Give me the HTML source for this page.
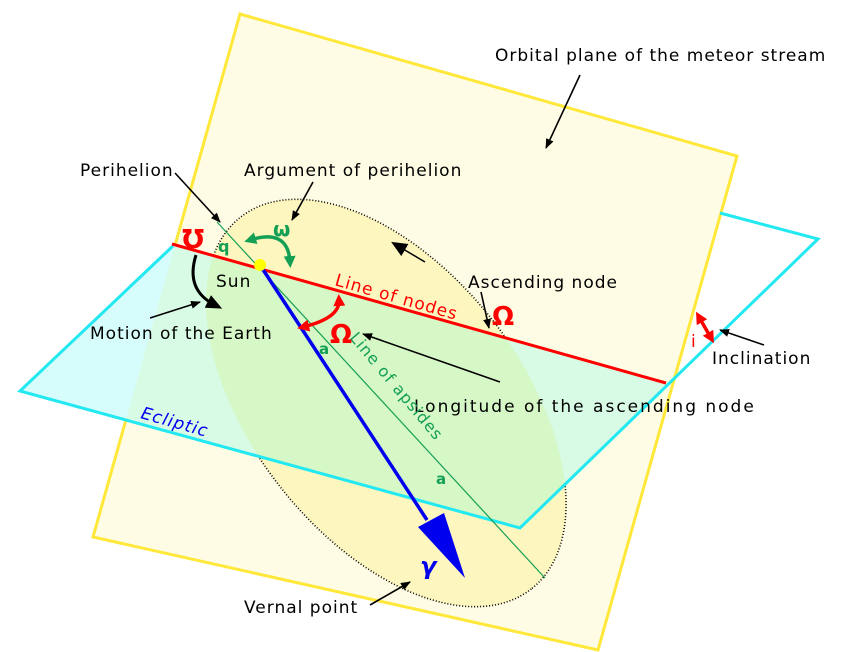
<!DOCTYPE html>
<html><head><meta charset="utf-8"><style>
html,body{margin:0;padding:0;background:#fff;width:851px;height:652px;overflow:hidden;}
svg{display:block;}
text{font-family:"DejaVu Sans","Liberation Sans",sans-serif;}
</style></head><body>
<svg width="851" height="652" viewBox="0 0 851 652" xmlns="http://www.w3.org/2000/svg">
<defs>
<clipPath id="below"><polygon points="0,240 172,244 666,383 851,435 851,652 0,652"/></clipPath>
<clipPath id="yel"><polygon points="240,14 737,156 598,650 93,537"/></clipPath>
<clipPath id="cy"><polygon points="20,391 520,528 818,239 720,213 172,244"/></clipPath>
<marker id="ab" markerWidth="10" markerHeight="8" refX="9" refY="4" orient="auto" markerUnits="userSpaceOnUse"><path d="M0,0 L10,4 L0,8 Z" fill="#000"/></marker>
<marker id="abBig" markerWidth="16" markerHeight="14" refX="8" refY="7" orient="auto" markerUnits="userSpaceOnUse"><path d="M0,0 L16,7 L0,14 Z" fill="#000"/></marker>
<marker id="ag" markerWidth="12" markerHeight="12" refX="6" refY="6" orient="auto-start-reverse" markerUnits="userSpaceOnUse"><path d="M0,0 L12,6 L0,12 Z" fill="#13a055"/></marker>
<marker id="ar" markerWidth="12" markerHeight="12" refX="6" refY="6" orient="auto-start-reverse" markerUnits="userSpaceOnUse"><path d="M0,0 L12,6 L0,12 Z" fill="#f00"/></marker>
</defs>
<polygon points="240,14 737,156 598,650 93,537" fill="#fefce4" stroke="#ffe83a" stroke-width="3"/>
<ellipse cx="386" cy="403" rx="236" ry="135" transform="rotate(52 386 403)" fill="#fdf6bf" stroke="#000" stroke-width="1.6" stroke-dasharray="1 2"/>
<g clip-path="url(#below)">
<polygon points="20,391 520,528 818,239 720,213 172,244" fill="#d6fdfb"/>
<g clip-path="url(#yel)">
<polygon points="20,391 520,528 818,239 720,213 172,244" fill="#d8fbe6"/>
<g clip-path="url(#cy)">
<ellipse cx="386" cy="403" rx="236" ry="135" transform="rotate(52 386 403)" fill="#d6f7c6"/>
</g>
</g>
</g>
<polyline points="720,213 818,239 520,528 20,391 173,246" fill="none" stroke="#22e8f2" stroke-width="3"/>
<line x1="172" y1="244" x2="666" y2="383" stroke="#f00" stroke-width="3"/>
<line x1="217" y1="222" x2="545" y2="578" stroke="#13a055" stroke-width="1.2"/>
<line x1="260" y1="265" x2="427" y2="520" stroke="#0000ee" stroke-width="3.5"/>
<polygon points="418,527 444,513 465,578" fill="#0000ee"/>
<circle cx="260" cy="265" r="6" fill="#ffff00"/>
<path d="M250,240 Q288,228 290,262" fill="none" stroke="#13a055" stroke-width="3.5" marker-start="url(#ag)" marker-end="url(#ag)"/>
<path d="M303,327 Q340,318 339,300" fill="none" stroke="#f00" stroke-width="3.5" marker-start="url(#ar)" marker-end="url(#ar)"/>
<line x1="699" y1="317" x2="711" y2="338" stroke="#f00" stroke-width="3.5" marker-start="url(#ar)" marker-end="url(#ar)"/>
<path d="M196,255 Q185,290 215,305" fill="none" stroke="#000" stroke-width="3" marker-end="url(#abBig)"/>
<line x1="425" y1="262" x2="398" y2="246" stroke="#000" stroke-width="1.5" marker-end="url(#abBig)"/>
<g stroke="#000" stroke-width="1.6" fill="none">
<line x1="175" y1="173" x2="220" y2="222" marker-end="url(#ab)"/>
<line x1="313" y1="182" x2="292" y2="220" marker-end="url(#ab)"/>
<line x1="580" y1="75" x2="546" y2="148" marker-end="url(#ab)"/>
<line x1="481" y1="292" x2="489" y2="328" marker-end="url(#ab)"/>
<line x1="150" y1="318" x2="200" y2="302" marker-end="url(#ab)"/>
<line x1="500" y1="382" x2="363" y2="334" marker-end="url(#ab)"/>
<line x1="764" y1="345" x2="720" y2="330" marker-end="url(#ab)"/>
<line x1="370" y1="605" x2="410" y2="582" marker-end="url(#ab)"/>
</g>
<g font-size="17" fill="#000" letter-spacing="1">
<text x="495" y="61">Orbital plane of the meteor stream</text>
<text x="80" y="176">Perihelion</text>
<text x="244" y="176">Argument of perihelion</text>
<text x="216" y="287">Sun</text>
<text x="468" y="288">Ascending node</text>
<text x="90" y="339">Motion of the Earth</text>
<text x="712" y="364">Inclination</text>
<text x="414" y="412" letter-spacing="2">Longitude of the ascending node</text>
<text x="244" y="613">Vernal point</text>
</g>
<text x="334" y="285" font-size="17" fill="#f00" letter-spacing="1" transform="rotate(16 334 285)">Line of nodes</text>
<text x="349" y="338" font-size="16" fill="#13a055" letter-spacing="1" transform="rotate(50 349 338)">Line of apsides</text>
<text x="140" y="418" font-size="17" fill="#0000ee" font-style="italic" letter-spacing="1" transform="rotate(16 140 418)">Ecliptic</text>
<text x="182" y="248" font-size="26" font-weight="bold" fill="#f00" font-family="Liberation Serif,serif">℧</text>
<text x="330" y="343" font-size="26" font-weight="bold" fill="#f00" font-family="Liberation Serif,serif">Ω</text>
<text x="492" y="325" font-size="26" font-weight="bold" fill="#f00" font-family="Liberation Serif,serif">Ω</text>
<text x="691" y="347" font-size="17" fill="#f00">i</text>
<text x="273" y="236" font-size="20" font-weight="bold" fill="#13a055">ω</text>
<text x="218" y="252" font-size="16" font-weight="bold" fill="#13a055">q</text>
<text x="319" y="354" font-size="15" font-weight="bold" fill="#13a055">a</text>
<text x="436" y="484" font-size="15" font-weight="bold" fill="#13a055">a</text>
<text x="420" y="574" font-size="24" font-weight="bold" fill="#0000ee" font-style="italic" font-family="Liberation Serif,serif">γ</text>
</svg>
</body></html>
